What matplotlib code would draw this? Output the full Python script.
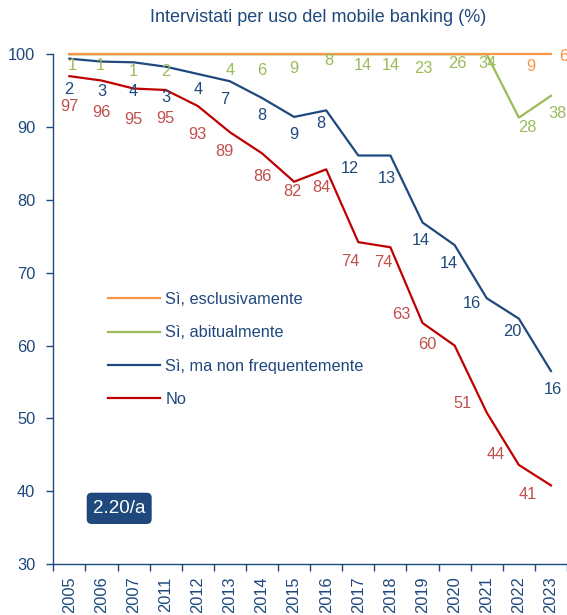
import matplotlib
matplotlib.use("Agg")
import matplotlib.pyplot as plt
from matplotlib.patches import FancyBboxPatch
import numpy as np

plt.rcParams['font.family'] = ['Liberation Sans', 'DejaVu Sans']

# quote per anno (%), le linee sono cumulate dal basso
anni = ['2005', '2006', '2007', '2011', '2012', '2013', '2014', '2015',
        '2016', '2017', '2018', '2019', '2020', '2021', '2022', '2023']
no = [97.0, 96.4, 95.3, 95.1, 92.9, 89.3, 86.4, 82.5,
      84.2, 74.2, 73.5, 63.1, 60.0, 50.8, 43.6, 40.8]
non_freq = [2.4, 2.6, 3.6, 3.2, 4.4, 7.0, 7.6, 8.9,
            8.1, 11.9, 12.6, 13.8, 13.8, 15.7, 20.1, 15.7]
abituale = [0.6, 1.0, 1.1, 1.7, 2.7, 3.7, 6.0, 8.6,
            7.7, 13.9, 13.9, 23.1, 26.2, 33.5, 27.6, 37.8]
esclusivo = [0, 0, 0, 0, 0, 0, 0, 0,
             0, 0, 0, 0, 0, 0, 8.7, 5.7]

NAVY = '#1F497D'
ROSSO = '#C00000'
ROSSO_ETI = '#C0504D'
VERDE = '#9BBB59'
ARANCIO = '#F79646'
FS = 11.8

# spostamenti delle etichette in pixel (dx, dy verso il basso)
off_no = [(0, 30), (0, 32), (0, 31), (0, 29), (0, 29), (-6, 19), (0, 23), (-2, 10),
          (-5, 18), (-8, 19), (-7, 15), (-21, -8), (-27, -1), (-24, -9), (-23, -10), (-23, 9)]
off_nf = [(-1, 31), (0, 30), (0, 29), (0, 31), (0, 16), (-5, 18), (0, 18), (0, 18),
          (-5, 13), (-8, 13), (-4, 23), (-2, 18), (-6, 18), (-15, 5), (-7, 13), (2, 18)]
off_ab = [(3, 11), (-1, 11), (0, 17), (0, 17), None, (0, 16), (0, 16), (0, 14),
          (3, 6), (5, 11), (0, 11), (1, 14), (3, 9), (1, 9), (8, 10), (7, 18)]
off_es = [None] * 14 + [(12, 12), (13, 2)]

x = np.arange(len(anni))
c_no = np.array(no)
c_nf = c_no + np.array(non_freq)
c_ab = c_nf + np.array(abituale)
c_es = c_ab + np.array(esclusivo)

fig = plt.figure(figsize=(5.67, 6.15), dpi=100)
ax = fig.add_axes([53.3 / 567, 1 - 564 / 615, 1 - 53.3 / 567, (564 - 54.3) / 615])

lw = 1.6
ax.plot(x, c_ab, color=VERDE, lw=lw, label='Sì, abitualmente', clip_on=False, zorder=3)
ax.plot(x, c_nf, color=NAVY, lw=lw, label='Sì, ma non frequentemente', clip_on=False, zorder=3)
ax.plot(x, c_no, color=ROSSO, lw=lw, label='No', clip_on=False, zorder=3)
ax.plot(x, c_es, color=ARANCIO, lw=lw, label='Sì, esclusivamente', clip_on=False, zorder=4)


def etichette(vals, ypos, offs, col):
    for i in range(len(vals)):
        if offs[i] is None:
            continue
        dx, dy = offs[i]
        ax.annotate(f'{vals[i]:.0f}', (x[i], ypos[i]), xytext=(dx, -dy),
                    textcoords='offset pixels', ha='center', va='center',
                    color=col, fontsize=FS, annotation_clip=False, zorder=5)


etichette(no, c_no, off_no, ROSSO_ETI)
etichette(non_freq, c_nf, off_nf, NAVY)
etichette(abituale, c_ab, off_ab, VERDE)
etichette(esclusivo, c_es, off_es, ARANCIO)

ax.set_xlim(-0.5, len(anni) - 0.5)
ax.set_ylim(30, 100)
ax.set_yticks(range(30, 101, 10))
ax.set_xticks(x)
ax.set_xticklabels(anni, rotation=90)
ax.set_xticks(np.arange(-0.5, len(anni), 1), minor=True)
ax.tick_params(axis='x', which='major', length=0, pad=9, labelsize=FS, labelcolor=NAVY)
ax.tick_params(axis='x', which='minor', length=5, width=1, color=NAVY, direction='out')
ax.tick_params(axis='y', length=5, width=1, color=NAVY, pad=8, labelsize=FS, labelcolor=NAVY)
for s in ['top', 'right']:
    ax.spines[s].set_visible(False)
for s in ['left', 'bottom']:
    ax.spines[s].set_color(NAVY)
    ax.spines[s].set_linewidth(1.0)

h, l = ax.get_legend_handles_labels()
ordine = [3, 0, 1, 2]
fig.legend([h[i] for i in ordine], [l[i] for i in ordine], loc='upper left',
           bbox_to_anchor=(108 / 567, 1 - 292 / 615), frameon=False, borderpad=0,
           borderaxespad=0, handlelength=3.2, handletextpad=0.3, labelspacing=1.12,
           fontsize=FS, labelcolor=NAVY)

fig.text(318 / 567, 1 - 17.5 / 615, 'Intervistati per uso del mobile banking (%)',
         ha='center', va='center', fontsize=13, color=NAVY)

box = FancyBboxPatch((0.867, 0.91), 0.65, 0.313, boxstyle='round,pad=0,rounding_size=0.05',
                     transform=fig.dpi_scale_trans, facecolor=NAVY, edgecolor='none')
fig.patches.append(box)
fig.text(119 / 567, 1 - 508.5 / 615, '2.20/a', ha='center', va='center',
         fontsize=13.5, color='white')

fig.savefig('out.png', dpi=100)
